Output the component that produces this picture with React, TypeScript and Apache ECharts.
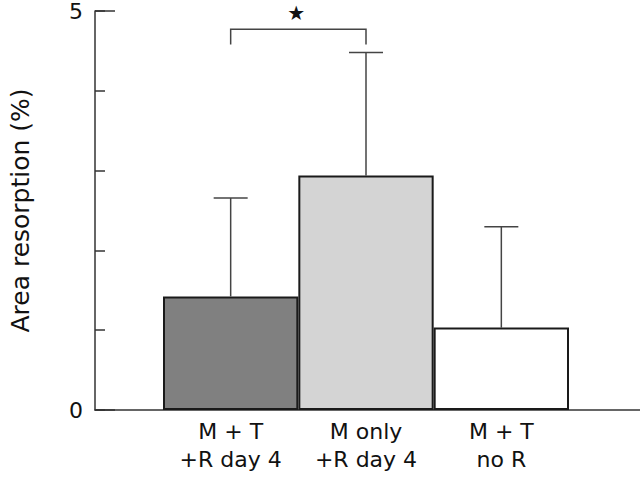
import React, { useEffect, useRef } from "react";
import * as echarts from "echarts";

const categories = ["M + T\n+R day 4", "M only\n+R day 4", "M + T\nno R"];
const means = [1.42, 2.93, 1.03];
const errorTops = [2.65, 4.47, 2.29];
const barColors = ["#808080", "#d4d4d4", "#ffffff"];
const yTickLabels = ["0", "5"];
const sigPair = [0, 1];
const bracketTop = 4.76;
const bracketFoot = 4.57;
const sigMark = "★";

const FONT = "'DejaVu Sans', sans-serif";
const AXIS_COLOR = "#333";

export default function App() {
  const ref = useRef<HTMLDivElement>(null);
  useEffect(() => {
    if (!ref.current) return;
    const chart = echarts.init(ref.current, null, { renderer: "svg" });
    const lineStyle = { color: AXIS_COLOR, width: 1.5 };
    chart.setOption({
      animation: false,
      backgroundColor: "#ffffff",
      textStyle: { fontFamily: FONT },
      grid: [
        { left: 92, right: 0, top: 10, height: 400 },
        { left: 163, width: 406, top: 10, height: 400 },
      ],
      xAxis: [
        {
          gridIndex: 0,
          type: "value",
          min: 0,
          max: 1,
          axisLine: { show: true, onZero: false, lineStyle },
          axisTick: { show: false },
          axisLabel: { show: false },
          splitLine: { show: false },
        },
        {
          gridIndex: 1,
          type: "category",
          data: categories,
          axisLine: { show: false },
          axisTick: { show: false },
          axisLabel: {
            fontSize: 22,
            lineHeight: 28,
            color: "#111",
            margin: 7,
            fontFamily: FONT,
          },
        },
      ],
      yAxis: [
        {
          gridIndex: 0,
          type: "value",
          min: 0,
          max: 5,
          interval: 5,
          axisLine: { show: true, lineStyle },
          axisTick: { show: true, inside: true, length: 20, lineStyle },
          axisLabel: {
            fontSize: 22,
            lineHeight: 18,
            margin: 12,
            color: "#111",
            fontFamily: FONT,
            formatter: (v: number) => (yTickLabels.includes(String(v)) ? String(v) : ""),
          },
          splitLine: { show: false },
          name: "Area resorption (%)",
          nameLocation: "middle",
          nameGap: 62,
          nameTextStyle: { fontSize: 25, color: "#111", fontFamily: FONT },
        },
        {
          gridIndex: 0,
          type: "value",
          min: 0,
          max: 5,
          interval: 1,
          position: "left",
          offset: 0,
          axisLine: { show: false },
          axisTick: { show: true, inside: true, length: 10, lineStyle },
          axisLabel: { show: false },
          splitLine: { show: false },
        },
        {
          gridIndex: 1,
          type: "value",
          min: 0,
          max: 5,
          show: false,
        },
      ],
      series: [
        {
          type: "custom",
          xAxisIndex: 1,
          yAxisIndex: 2,
          z: 1,
          data: means.map((m, i) => [i, m, errorTops[i]]),
          renderItem: (params: any, api: any) => {
            const base = api.coord([api.value(0), api.value(1)]);
            const top = api.coord([api.value(0), api.value(2)]);
            const style = { stroke: "#444", lineWidth: 1.5 };
            return {
              type: "group",
              children: [
                { type: "line", shape: { x1: base[0], y1: base[1], x2: top[0], y2: top[1] }, style },
                { type: "line", shape: { x1: top[0] - 17, y1: top[1], x2: top[0] + 17, y2: top[1] }, style },
              ],
            };
          },
        },
        {
          type: "bar",
          xAxisIndex: 1,
          yAxisIndex: 2,
          z: 3,
          barWidth: "100%",
          data: means.map((v, i) => ({ value: v, itemStyle: { color: barColors[i] } })),
          itemStyle: { borderColor: "#1a1a1a", borderWidth: 2 },
        },
        {
          type: "custom",
          xAxisIndex: 1,
          yAxisIndex: 2,
          z: 4,
          data: [[sigPair[0], sigPair[1], bracketTop, bracketFoot]],
          renderItem: (params: any, api: any) => {
            const a = api.value(0);
            const b = api.value(1);
            const t = api.value(2);
            const f = api.value(3);
            const p1 = api.coord([a, f]);
            const p2 = api.coord([a, t]);
            const p3 = api.coord([b, t]);
            const p4 = api.coord([b, f]);
            return {
              type: "group",
              children: [
                {
                  type: "polyline",
                  shape: { points: [p1, p2, p3, p4] },
                  style: { stroke: "#444", lineWidth: 1.5, fill: "none" },
                },
                {
                  type: "text",
                  x: (p2[0] + p3[0]) / 2 - 2,
                  y: p2[1] - 16,
                  style: {
                    text: sigMark,
                    fontSize: 20,
                    fill: "#111",
                    align: "center",
                    verticalAlign: "middle",
                    fontFamily: "DejaVu Sans",
                  },
                },
              ],
            };
          },
        },
      ],
    });
    return () => chart.dispose();
  }, []);
  return (
    <div
      ref={ref}
      style={{ position: "fixed", left: 0, top: 0, width: 640, height: 477, background: "#fff" }}
    />
  );
}
